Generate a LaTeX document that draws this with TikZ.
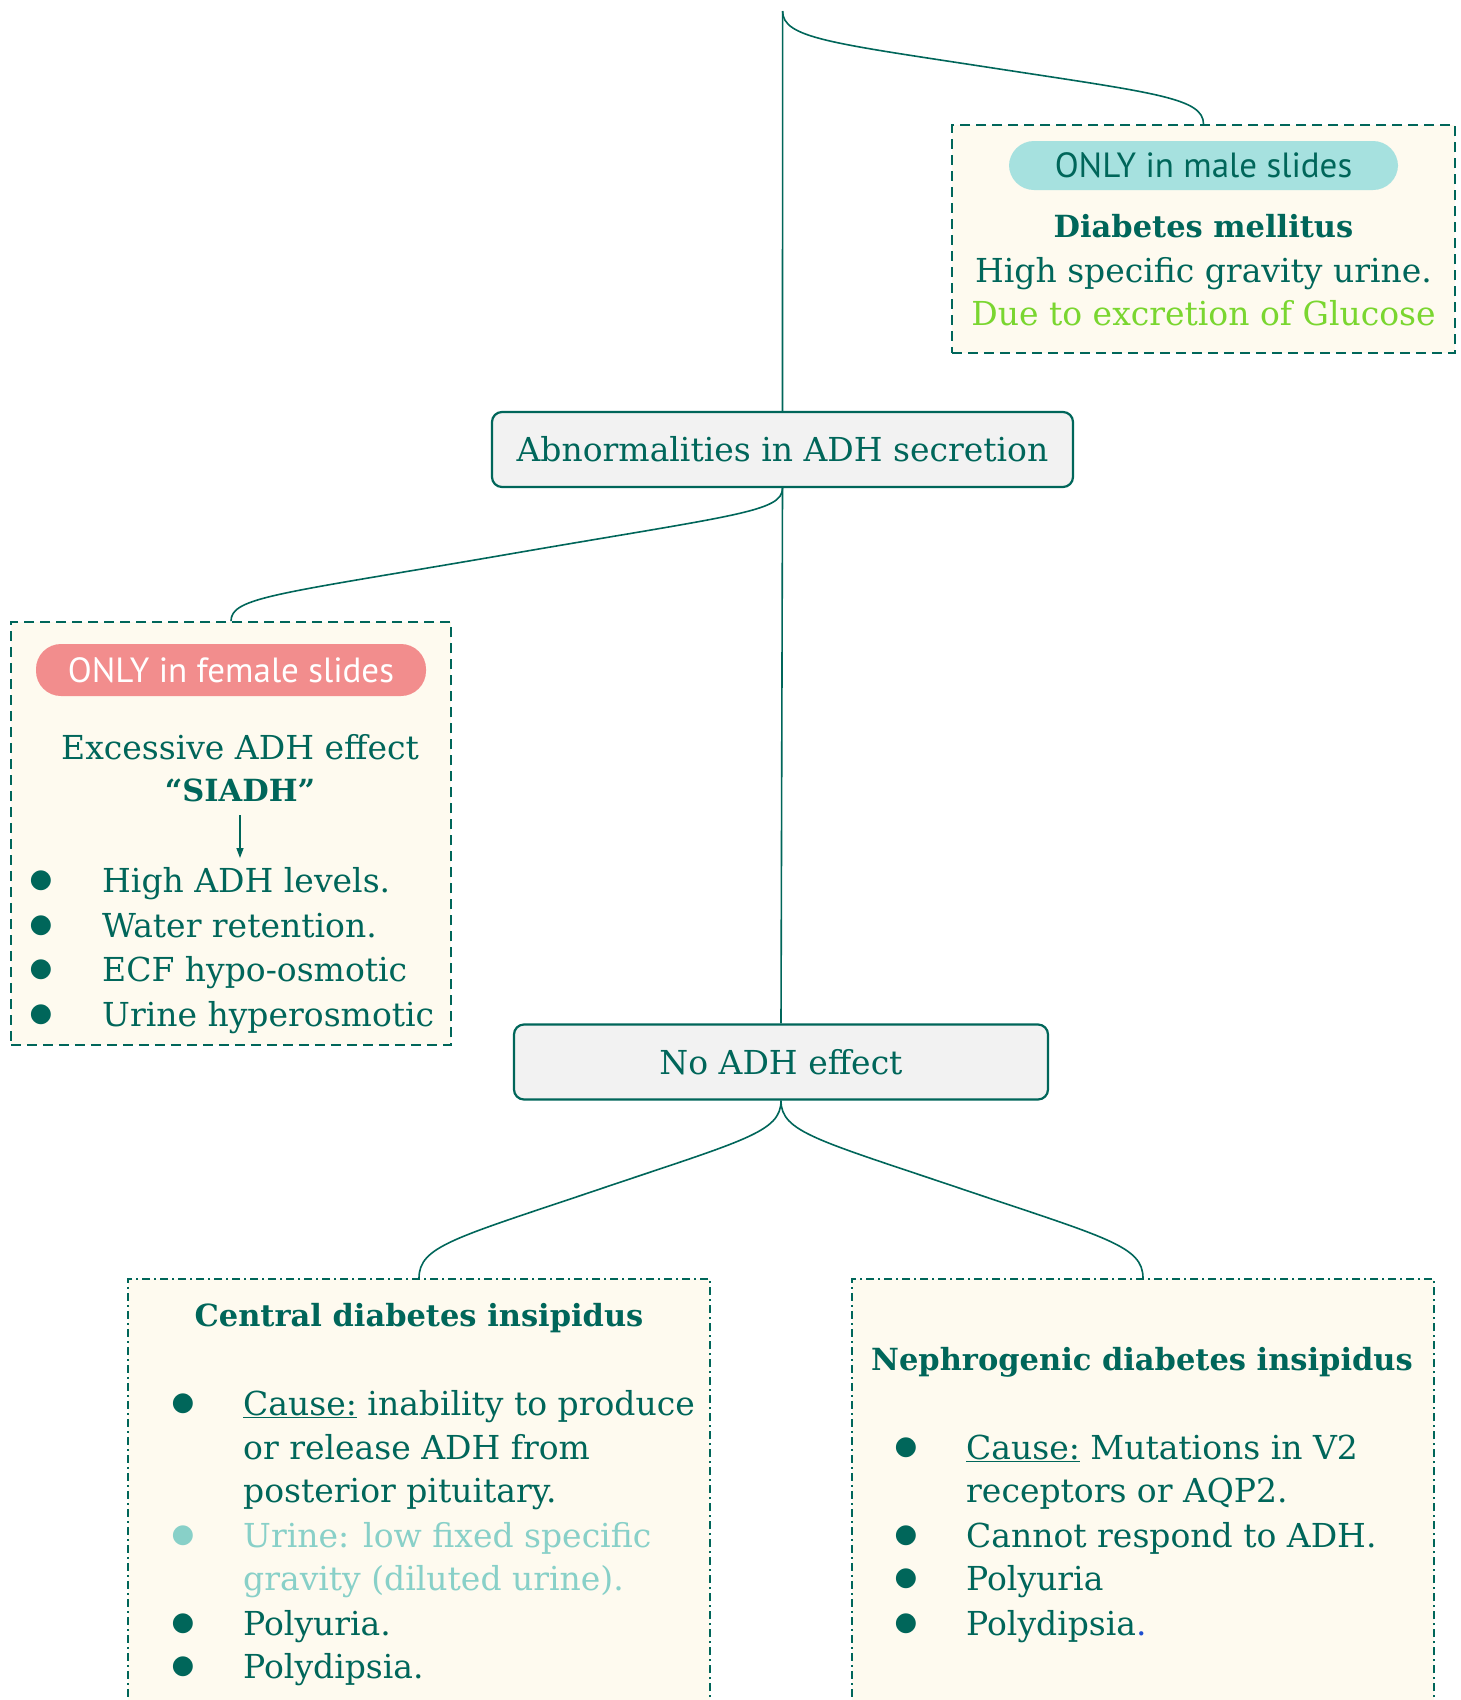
\documentclass[tikz,border=0pt]{standalone}
\usepackage{fontspec}
\setmainfont{DejaVu Serif}
\newfontfamily\pillfont{PT Sans}
\newfontfamily\dotfont{DejaVu Sans}
\usetikzlibrary{arrows.meta}
\definecolor{dteal}{HTML}{00665A}
\definecolor{cream}{HTML}{FEFAEF}
\definecolor{boxgray}{HTML}{F2F2F2}
\definecolor{malepill}{HTML}{A6E1DF}
\definecolor{femalepill}{HTML}{F28D8D}
\definecolor{lgreen}{HTML}{7AD630}
\definecolor{lteal}{HTML}{88D0C8}
\definecolor{dotblue}{HTML}{1F4FD0}
\tikzset{
  conn/.style={draw=dteal, line width=1.6pt},
  mainbox/.style={draw=dteal, line width=2.2pt, fill=boxgray, rounded corners=10pt, inner sep=0pt},
  dashbox/.style={draw=dteal, line width=1.8pt, fill=cream, dash pattern=on 10pt off 6pt, inner sep=0pt},
  ddbox/.style={draw=dteal, line width=1.6pt, fill=cream, dash pattern=on 8pt off 4pt on 2pt off 4pt, inner sep=0pt},
  pill/.style={rounded corners=25pt, inner sep=0pt, font=\pillfont\fontsize{35}{40}\selectfont},
  txt/.style={font=\fontsize{33}{44}\selectfont, text=dteal, inner sep=0pt},
  bold/.style={font=\bfseries\fontsize{30.5}{44}\selectfont},
  bul/.style={font=\dotfont\fontsize{26}{30}\selectfont, text=dteal, inner sep=0pt},
}
\begin{document}
\begin{tikzpicture}[x=1pt,y=-1pt]
\useasboundingbox (0,0) rectangle (1460,1700);
\fill[white] (0,0) rectangle (1460,1700);

% boxes
\node[mainbox, minimum width=581pt, minimum height=75pt] (adh) at (782.5,449.5) {};
\node[mainbox, minimum width=534pt, minimum height=75pt] (noadh) at (781,1062) {};
\node[dashbox, minimum width=503pt, minimum height=228pt] (male) at (1203.5,239) {};
\node[dashbox, minimum width=440pt, minimum height=423pt] (fem) at (231,833.5) {};
\node[ddbox, minimum width=582pt, minimum height=460pt] (cen) at (419,1509) {};
\node[ddbox, minimum width=582pt, minimum height=460pt] (nep) at (1143,1509) {};

\coordinate (top) at (782.6,11);

% connectors
\draw[conn] (top) -- (adh.north);
\draw[conn] (top) .. controls (782.6,38) and (830,43) .. (992.8,68)
                  .. controls (1155.6,93) and (1203.5,98) .. (male.north);
\draw[conn] (adh.south) -- (noadh.north);
\draw[conn] (adh.south) .. controls (782.5,512) and (735,515) .. (506.8,554.5)
                        .. controls (278,594) and (231,597) .. (fem.north);
\draw[conn] (noadh.south) .. controls (781,1132) and (745,1140) .. (600,1189)
                          .. controls (455,1238) and (419,1246) .. (cen.north);
\draw[conn] (noadh.south) .. controls (781,1132) and (817,1140) .. (962,1189)
                          .. controls (1107,1238) and (1143,1246) .. (nep.north);

% main box texts
\node[txt] (adht) at (782.5,449.5) {Abnormalities in ADH secretion};
\node[txt] (noadht) at (781,1062) {No ADH effect};

% male box
\node[pill, fill=malepill, text=dteal, minimum width=389pt, minimum height=49pt] (mpill) at (1203.5,165.5) {ONLY in male slides};
\node[txt, anchor=base, bold] (dm) at (1203.5,237) {Diabetes mellitus};
\node[txt, anchor=base] (dm2) at (1203.5,282) {High specific gravity urine.};
\node[txt, anchor=base, text=lgreen] (dm3) at (1203.5,325) {Due to excretion of Glucose};

% female box
\node[pill, fill=femalepill, text=white, minimum width=390pt, minimum height=52pt] (fpill) at (231,670) {ONLY in female slides};
\node[txt, anchor=base] (ex) at (240,759) {Excessive ADH effect};
\node[txt, anchor=base, bold] (si) at (240,801) {“SIADH”};
\coordinate (arrs) at (240,815);
\coordinate (arre) at (240,858);
\draw[dteal, line width=1.4pt, -{Triangle[length=10pt,width=7pt]}] (arrs) -- (arre);
\foreach \yy/\tt [count=\i] in {881/High ADH levels., 926/Water retention., 970/ECF hypo-osmotic, 1015/Urine hyperosmotic}{
  \node[bul] (fb\i) at (41,\yy) {●};
  \node[txt, anchor=base west] (ft\i) at (102,\yy+11) {\tt};
}

% central box
\node[txt, anchor=base, bold] (ct) at (419,1326) {Central diabetes insipidus};
\node[bul] (cb1) at (183,1404) {●};
\node[bul, text=lteal] (cb2) at (183,1536) {●};
\node[bul] (cb3) at (183,1624) {●};
\node[bul] (cb4) at (183,1667) {●};
\node[txt, anchor=base west] (cl1) at (243,1415) {\underline{Cause:} inability to produce};
\node[txt, anchor=base west] (cl2) at (243,1459) {or release ADH from};
\node[txt, anchor=base west] (cl3) at (243,1502) {posterior pituitary.};
\node[txt, anchor=base west, text=lteal] (cl4) at (243,1547) {Urine: low fixed specific};
\node[txt, anchor=base west, text=lteal] (cl5) at (243,1590) {gravity (diluted urine).};
\node[txt, anchor=base west] (cl6) at (243,1635) {Polyuria.};
\node[txt, anchor=base west] (cl7) at (243,1678) {Polydipsia.};

% nephrogenic box
\node[txt, anchor=base, bold] (nt) at (1142,1370) {Nephrogenic diabetes insipidus};
\node[bul] (nb1) at (906,1448) {●};
\node[bul] (nb2) at (906,1536) {●};
\node[bul] (nb3) at (906,1579) {●};
\node[bul] (nb4) at (906,1624) {●};
\node[txt, anchor=base west] (nl1) at (966,1459) {\underline{Cause:} Mutations in V2};
\node[txt, anchor=base west] (nl2) at (966,1502) {receptors or AQP2.};
\node[txt, anchor=base west] (nl3) at (966,1547) {Cannot respond to ADH.};
\node[txt, anchor=base west] (nl4) at (966,1590) {Polyuria};
\node[txt, anchor=base west] (nl5) at (966,1635) {Polydipsia\textcolor{dotblue}{.}};
\end{tikzpicture}
\end{document}
